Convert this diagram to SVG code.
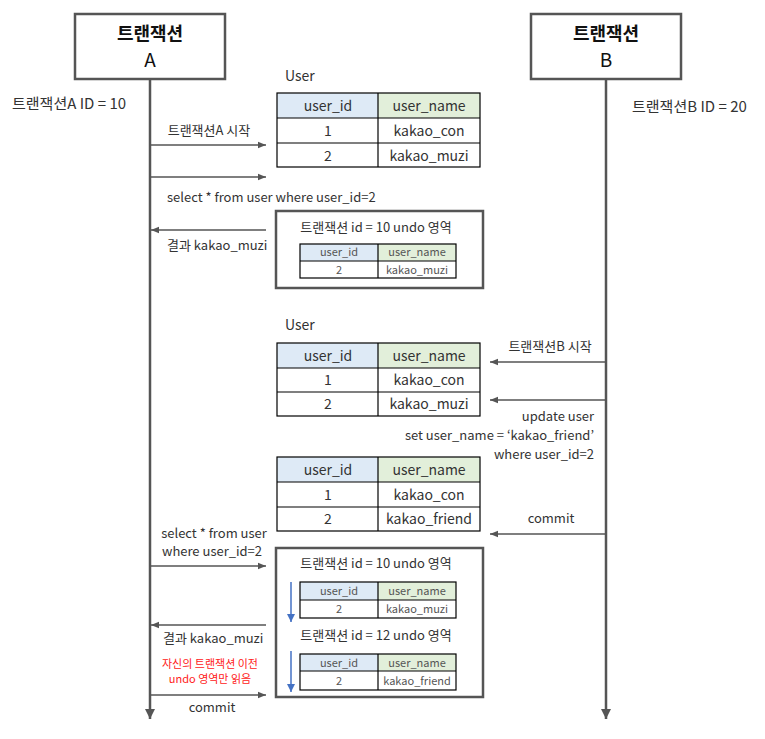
<svg xmlns="http://www.w3.org/2000/svg" width="765" height="739" viewBox="0 0 765 739">
<style>
text{font-family:"Noto Sans CJK KR","Noto Sans",sans-serif;fill:#333;}
.t{font-size:14px;}
.s{font-size:11px;fill:#555;}
.h{font-size:18px;font-weight:bold;fill:#111;text-anchor:middle;}
.c{text-anchor:middle;}
.r{text-anchor:end;}
.box{fill:#fff;stroke:#555;stroke-width:2.5;}
.tb{fill:none;stroke:#000;stroke-width:1.2;}
.hid{fill:#DEEAF6;}
.hnm{fill:#E2EFDA;}
.ln{stroke:#000;stroke-width:1.2;}
.ar{stroke:#555;stroke-width:1.5;fill:none;marker-end:url(#ah);}
.life{stroke:#555;stroke-width:2.5;fill:none;marker-end:url(#ahL);}
.blue{stroke:#4472C4;stroke-width:1.5;fill:none;marker-end:url(#ahB);}
.red{font-size:11px;fill:#FF2020;text-anchor:middle;}
</style>
<defs>
<marker id="ah" viewBox="0 0 10 10" refX="10" refY="5" markerWidth="8" markerHeight="8" markerUnits="userSpaceOnUse" orient="auto"><path d="M0,1 L10,5 L0,9 Z" fill="#555"/></marker>
<marker id="ahL" viewBox="0 0 10 10" refX="10" refY="5" markerWidth="4" markerHeight="4" orient="auto"><path d="M0,0 L10,5 L0,10 Z" fill="#555"/></marker>
<marker id="ahB" viewBox="0 0 10 10" refX="10" refY="5" markerWidth="8" markerHeight="8" markerUnits="userSpaceOnUse" orient="auto"><path d="M0,0 L10,5 L0,10 Z" fill="#4472C4"/></marker>
</defs>
<rect width="765" height="739" fill="#fff"/>

<g id="connectors">
<line class="life" x1="150" y1="79" x2="150" y2="719"/>
<line class="life" x1="606" y1="79" x2="606" y2="719"/>
<line class="ar" x1="150" y1="145" x2="266" y2="145"/>
<line class="ar" x1="150" y1="177" x2="266" y2="177"/>
<line class="ar" x1="266" y1="230" x2="151" y2="230"/>
<line class="ar" x1="606" y1="362" x2="490" y2="362"/>
<line class="ar" x1="606" y1="400" x2="490" y2="400"/>
<line class="ar" x1="606" y1="534" x2="490" y2="534"/>
<line class="ar" x1="150" y1="566" x2="266" y2="566"/>
<line class="ar" x1="266" y1="625" x2="151" y2="625"/>
<line class="ar" x1="150" y1="695" x2="266" y2="695"/>
</g>

<g id="txA">
<rect class="box" x="75" y="14" width="150" height="65"/>
<text class="h" x="150" y="40">트랜잭션</text>
<text class="h" x="150" y="67" style="font-weight:normal;font-size:19px">A</text>
</g>
<g id="txB">
<rect class="box" x="531" y="14" width="150" height="65"/>
<text class="h" x="606" y="40">트랜잭션</text>
<text class="h" x="606" y="67" style="font-weight:normal;font-size:19px">B</text>
</g>

<g id="labels">
<text class="t" x="12" y="109" style="font-size:15px">트랜잭션A ID = 10</text>
<text class="t" x="632" y="112" style="font-size:15px">트랜잭션B ID = 20</text>
<text class="t c" x="209" y="135" style="font-size:13px">트랜잭션A 시작</text>
<text class="t" x="167" y="202" style="font-size:13px">select * from user where user_id=2</text>
<text class="t" x="167" y="250" style="font-size:13px">결과 kakao_muzi</text>
<text class="t c" x="550" y="351" style="font-size:13px">트랜잭션B 시작</text>
<text class="t r" x="594" y="421" style="font-size:13px">update user</text>
<text class="t r" x="594" y="440" style="font-size:13px">set user_name = ‘kakao_friend’</text>
<text class="t r" x="594" y="459" style="font-size:13px">where user_id=2</text>
<text class="t c" x="551" y="523" style="font-size:13px">commit</text>
<text class="t c" x="214" y="538" style="font-size:13px">select * from user</text>
<text class="t c" x="212" y="556" style="font-size:13px">where user_id=2</text>
<text class="t" x="163" y="643" style="font-size:13px">결과 kakao_muzi</text>
<text class="red" x="210" y="668">자신의 트랜잭션 이전</text>
<text class="red" x="210" y="683">undo 영역만 읽음</text>
<text class="t c" x="212" y="712" style="font-size:13px">commit</text>
<text class="t" x="285" y="81">User</text>
<text class="t" x="285" y="330">User</text>
</g>

<g id="table1">
<rect class="hid" x="277" y="93" width="101" height="25"/>
<rect class="hnm" x="378" y="93" width="102" height="25"/>
<rect class="tb" x="277" y="93" width="203" height="74"/>
<line class="ln" x1="277" y1="118" x2="480" y2="118"/>
<line class="ln" x1="277" y1="143" x2="480" y2="143"/>
<line class="ln" x1="378" y1="93" x2="378" y2="167"/>
<text class="t c" x="328" y="111">user_id</text>
<text class="t c" x="429" y="111">user_name</text>
<text class="t c" x="328" y="136">1</text>
<text class="t c" x="429" y="136">kakao_con</text>
<text class="t c" x="328" y="161">2</text>
<text class="t c" x="429" y="161">kakao_muzi</text>
</g>

<g id="undo1">
<rect class="box" x="276" y="211" width="207" height="77"/>
<text class="t c" x="376" y="232" style="font-size:13px">트랜잭션 id = 10 undo 영역</text>
<rect class="hid" x="300" y="244" width="78" height="17"/>
<rect class="hnm" x="378" y="244" width="78" height="17"/>
<rect class="tb" x="300" y="244" width="156" height="34"/>
<line class="ln" x1="300" y1="261" x2="456" y2="261"/>
<line class="ln" x1="378" y1="244" x2="378" y2="278"/>
<text class="s c" x="339" y="256">user_id</text>
<text class="s c" x="417" y="256">user_name</text>
<text class="s c" x="339" y="274">2</text>
<text class="s c" x="417" y="274">kakao_muzi</text>
</g>

<g id="table2">
<rect class="hid" x="277" y="343" width="101" height="25"/>
<rect class="hnm" x="378" y="343" width="102" height="25"/>
<rect class="tb" x="277" y="343" width="203" height="73"/>
<line class="ln" x1="277" y1="368" x2="480" y2="368"/>
<line class="ln" x1="277" y1="392" x2="480" y2="392"/>
<line class="ln" x1="378" y1="343" x2="378" y2="416"/>
<text class="t c" x="328" y="361">user_id</text>
<text class="t c" x="429" y="361">user_name</text>
<text class="t c" x="328" y="385">1</text>
<text class="t c" x="429" y="385">kakao_con</text>
<text class="t c" x="328" y="409">2</text>
<text class="t c" x="429" y="409">kakao_muzi</text>
</g>

<g id="table3">
<rect class="hid" x="277" y="457" width="101" height="25"/>
<rect class="hnm" x="378" y="457" width="102" height="25"/>
<rect class="tb" x="277" y="457" width="203" height="74"/>
<line class="ln" x1="277" y1="482" x2="480" y2="482"/>
<line class="ln" x1="277" y1="507" x2="480" y2="507"/>
<line class="ln" x1="378" y1="457" x2="378" y2="531"/>
<text class="t c" x="328" y="475">user_id</text>
<text class="t c" x="429" y="475">user_name</text>
<text class="t c" x="328" y="500">1</text>
<text class="t c" x="429" y="500">kakao_con</text>
<text class="t c" x="328" y="524">2</text>
<text class="t c" x="429" y="524">kakao_friend</text>
</g>

<g id="undo2">
<rect class="box" x="276" y="548" width="207" height="149"/>
<text class="t c" x="376" y="568" style="font-size:13px">트랜잭션 id = 10 undo 영역</text>
<rect class="hid" x="300" y="582" width="78" height="18"/>
<rect class="hnm" x="378" y="582" width="78" height="18"/>
<rect class="tb" x="300" y="582" width="156" height="36"/>
<line class="ln" x1="300" y1="600" x2="456" y2="600"/>
<line class="ln" x1="378" y1="582" x2="378" y2="618"/>
<text class="s c" x="339" y="595">user_id</text>
<text class="s c" x="417" y="595">user_name</text>
<text class="s c" x="339" y="613">2</text>
<text class="s c" x="417" y="613">kakao_muzi</text>
<line class="blue" x1="291" y1="582" x2="291" y2="622"/>
<text class="t c" x="376" y="640" style="font-size:13px">트랜잭션 id = 12 undo 영역</text>
<rect class="hid" x="300" y="654" width="78" height="17"/>
<rect class="hnm" x="378" y="654" width="78" height="17"/>
<rect class="tb" x="300" y="654" width="156" height="36"/>
<line class="ln" x1="300" y1="671" x2="456" y2="671"/>
<line class="ln" x1="378" y1="654" x2="378" y2="690"/>
<text class="s c" x="339" y="667">user_id</text>
<text class="s c" x="417" y="667">user_name</text>
<text class="s c" x="339" y="685">2</text>
<text class="s c" x="417" y="685">kakao_friend</text>
<line class="blue" x1="291" y1="651" x2="291" y2="692"/>
</g>
</svg>
